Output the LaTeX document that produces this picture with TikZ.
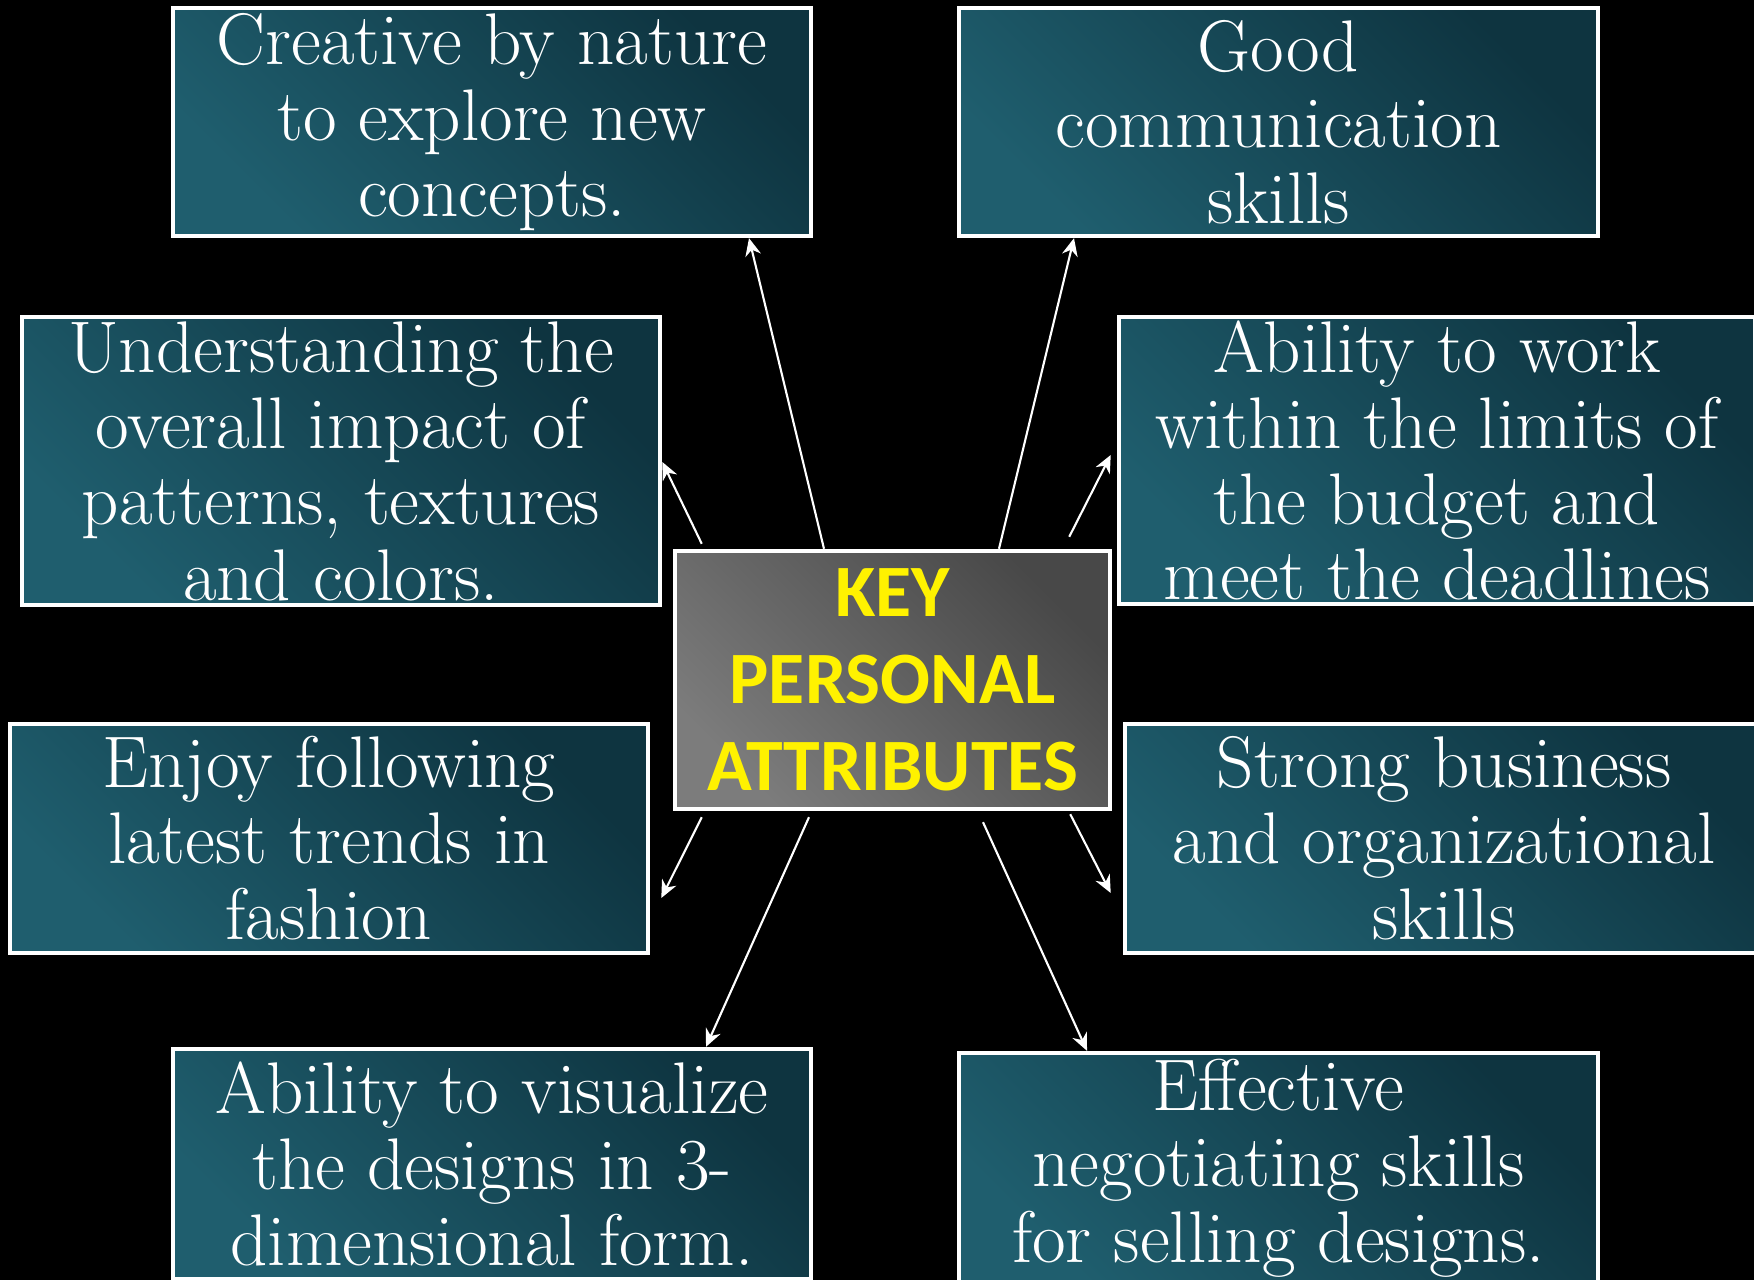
\documentclass[tikz,border=0pt]{standalone}
\usepackage{fontspec}
\usepackage{xcolor}
\usepackage{tikz}
\usetikzlibrary{positioning,calc,arrows.meta}
\newfontfamily\keyfont{Carlito}

\definecolor{tealdark}{HTML}{0E3440}
\definecolor{teallight}{HTML}{1F5E6E}
\definecolor{greydark}{HTML}{484848}
\definecolor{greylight}{HTML}{7C7C7C}

\tikzset{
  attr/.style={draw=white, line width=1.2pt, top color=tealdark, bottom color=teallight, shading angle=-45,
    text=white, align=center, inner sep=0pt, minimum width=6.38cm, minimum height=2.28cm,
    font=\fontsize{20.8}{21.6}\selectfont},
  keybox/.style={draw=white, line width=1.2pt, top color=greydark, bottom color=greylight, shading angle=-45,
    text=yellow, align=center, inner sep=0pt, minimum width=4.35cm, minimum height=2.58cm,
    font=\keyfont\bfseries\fontsize{21}{24.7}\selectfont},
  link/.style={draw=white, line width=0.6pt, -{Stealth[length=5pt,width=4.5pt]}}
}

\begin{document}
\begin{tikzpicture}[x=0.01cm, y=-0.01cm]
    \useasboundingbox (0,0) rectangle (1754,1280);
    \fill[black] (0,0) rectangle (1754,1280);
    \clip (0,0) rectangle (1754,1280);

    \node[keybox] (key) at (892.5,680) {KEY\\PERSONAL\\ATTRIBUTES};

    \node[attr] (creative) at (492,122) {Creative by nature\\to explore new\\concepts.};
    \node[attr] (good) at (1278.5,122) {Good\\communication\\skills};
    \node[attr, minimum height=2.88cm] (impact) at (341,461) {Understanding the\\overall impact of\\patterns, textures\\and colors.};
    \node[attr, minimum width=6.36cm, minimum height=2.87cm] (budget) at (1437,460.5) {Ability to work\\within the limits of\\the budget and\\meet the deadlines};
    \node[attr, minimum height=2.29cm] (trends) at (329,838.5) {Enjoy following\\latest trends in\\fashion};
    \node[attr, minimum height=2.29cm] (business) at (1444,838.5) {Strong business\\and organizational\\skills};
    \node[attr, minimum height=2.3cm] (visual) at (492,1164) {Ability to visualize\\the designs in 3-\\dimensional form.};
    \node[attr, minimum height=2.3cm] (selling) at (1278.5,1168) {Effective\\negotiating skills\\for selling designs.};

    \draw[link] ($(key.north)+(-68.5,0)$) -- ($(creative.south)+(257,0)$);
    \draw[link] ($(key.north)+(106.5,0)$) -- ($(good.south)+(-204.5,0)$);
    \draw[link] ($(key.north west)+(29,-5)$) -- ($(impact.east)+(0,1)$);
    \draw[link] ($(key.north east)+(-43,-12)$) -- ($(budget.west)+(-6,-5.5)$);
    \draw[link] ($(key.south west)+(29,6)$) -- ($(trends.east)+(11,59.5)$);
    \draw[link] ($(key.south east)+(-42,3)$) -- ($(business.west)+(-12,54.5)$);
    \draw[link] ($(key.south)+(-83.5,6)$) -- ($(visual.north)+(214,0)$);
    \draw[link] ($(key.south)+(90.5,11)$) -- ($(selling.north)+(-191.5,0)$);
\end{tikzpicture}
\end{document}
